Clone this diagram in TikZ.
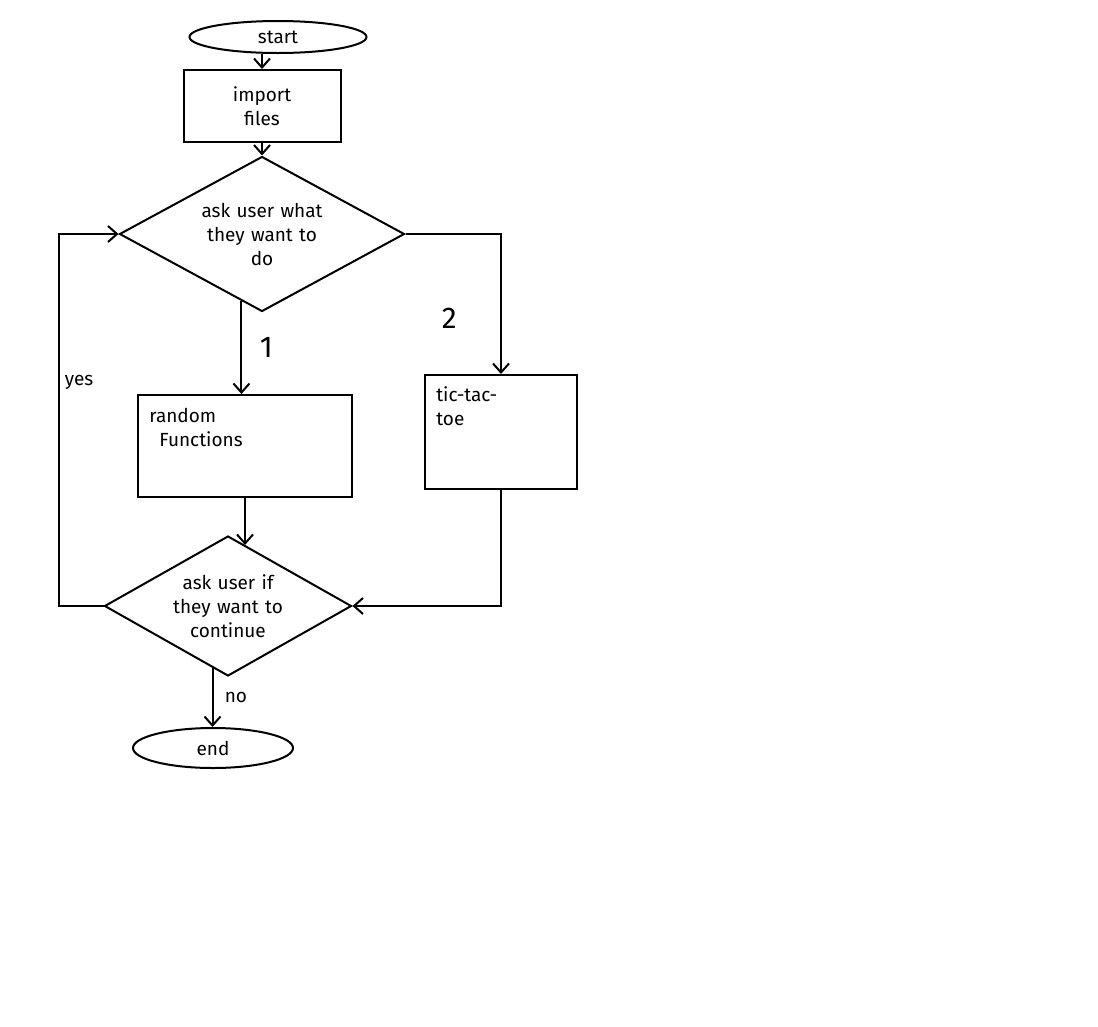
\documentclass[tikz,border=0pt]{standalone}
\usepackage{fontspec}
\setmainfont{Fira Sans}
\usetikzlibrary{shapes.geometric,arrows.meta}
\begin{document}
\begin{tikzpicture}[x=1pt,y=-1pt,line width=2pt,
  every node/.style={font=\fontsize{19}{24}\selectfont},
  arr/.style={-{Straight Barb[length=9pt,width=16pt,line width=2pt]}},
  term/.style={draw,ellipse,inner sep=0pt},
  proc/.style={draw,rectangle,inner sep=0pt},
  decision/.style={draw,diamond,inner sep=0pt,shape aspect=1.8,align=center},
  lbl/.style={font=\fontsize{30}{30}\selectfont}]
  \useasboundingbox[fill=white] (0,0) rectangle (1098,1026);

  % terminals and steps
  \node[term,minimum width=177pt,minimum height=32pt] (start) at (278,37) {start};
  \node[proc,minimum width=157pt,minimum height=72pt,align=center] (imp) at (262,106) {import\\files};
  \node[decision,minimum width=285pt,minimum height=155pt,text width=150pt] (ask) at (262,234)
    {ask user what\\they want to\\do};
  \node[proc,minimum width=214pt,minimum height=102pt,
        label={[anchor=north west,align=left,xshift=8pt,yshift=-10pt]north west:random\\\ \ Functions}]
    (rand) at (245,446) {};
  \node[proc,minimum width=152pt,minimum height=114pt,
        label={[anchor=north west,align=left,xshift=8pt,yshift=-8pt]north west:tic-tac-\\toe}]
    (ttt) at (501,432) {};
  \node[decision,minimum width=247pt,minimum height=140pt,text width=130pt] (cont) at (228,606)
    {ask user if\\they want to\\continue};
  \node[term,minimum width=160pt,minimum height=40pt] (end) at (213,748) {end};

  % connectors (vertical drops leave the diamonds from points on their lower edges)
  \draw[arr] (imp.north |- start.south) -- (imp.north);
  \draw[arr] (imp) -- (ask);
  \draw[arr] (ask.253) -- node[lbl,right=14pt] {1} (ask.253 |- rand.north);
  \draw[arr] (ask.east) -| (ttt.north) node[lbl,pos=0.8,left=40pt] {2};
  \draw[arr] (rand.south) -- (rand.south |- cont.74);
  \draw[arr] (ttt.south) |- (cont.east);
  \draw[arr] (cont.west) -- ++(-45,0) |- node[pos=0.3,right=2pt] {yes} (ask.west);
  \draw[arr] (cont.256) -- node[right=8pt] {no} (cont.256 |- end.north);
\end{tikzpicture}
\end{document}
